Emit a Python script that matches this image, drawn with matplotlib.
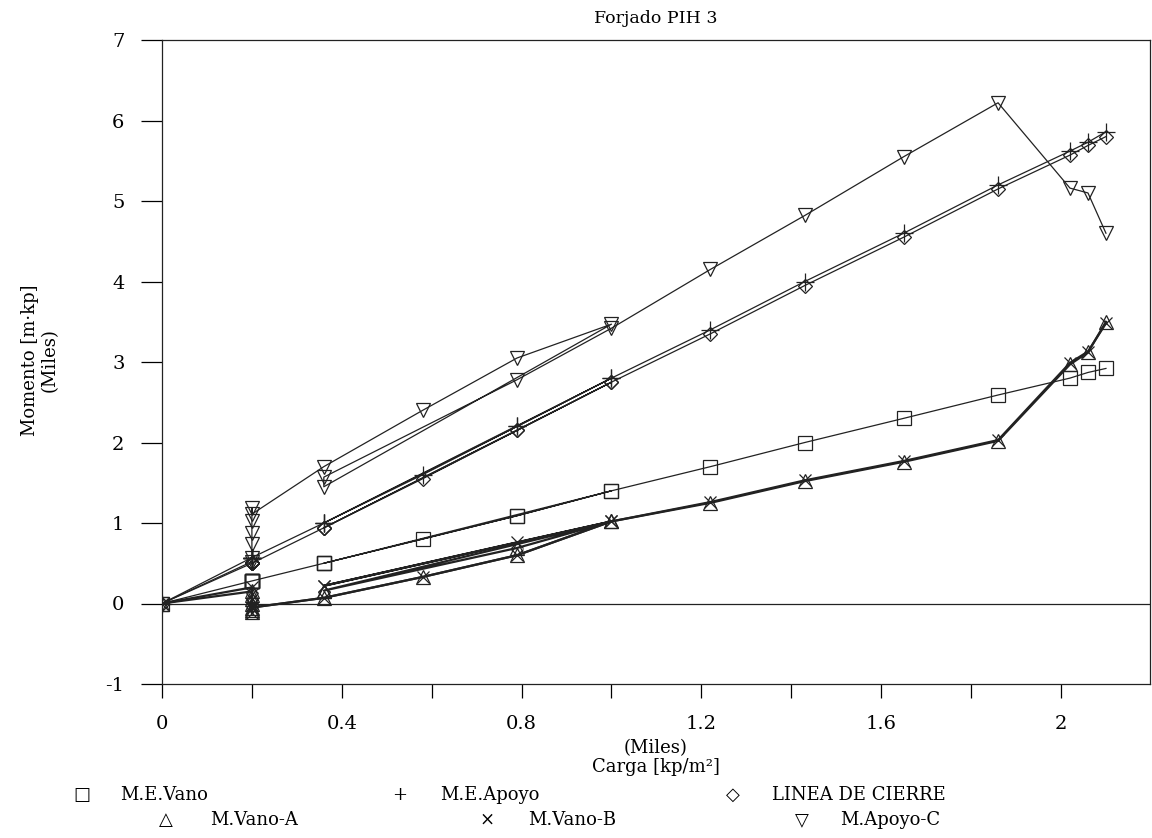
import matplotlib
matplotlib.use("Agg")
import matplotlib.pyplot as plt
from matplotlib.ticker import MultipleLocator, FixedLocator, FixedFormatter

plt.rcParams['font.family'] = ['DejaVu Serif']
plt.rcParams['axes.unicode_minus'] = False

# carga (miles de kp/m2), secuencia de lectura compartida por todas las series
carga = [0, 0.2, 0.2, 0.2, 0.2, 0.2, 0.2, 0.2, 0.36, 0.58, 0.79, 1.0,
         0.36, 0.36, 0.79, 1.0, 1.22, 1.43, 1.65, 1.86, 2.02, 2.06, 2.1]

# momentos (miles de m.kp)
me_vano = [0, 0.28, 0.28, 0.28, 0.28, 0.28, 0.28, 0.28, 0.50, 0.80, 1.09, 1.40,
           0.50, 0.50, 1.09, 1.40, 1.70, 2.00, 2.30, 2.59, 2.80, 2.87, 2.92]
me_apoyo = [0, 0.57, 0.57, 0.57, 0.57, 0.57, 0.57, 0.57, 1.00, 1.60, 2.20, 2.80,
            1.00, 1.00, 2.20, 2.80, 3.40, 4.00, 4.60, 5.20, 5.62, 5.73, 5.86]
linea_cierre = [0, 0.50, 0.50, 0.50, 0.50, 0.50, 0.50, 0.50, 0.94, 1.55, 2.15, 2.75,
                0.94, 0.94, 2.15, 2.75, 3.35, 3.95, 4.55, 5.15, 5.57, 5.69, 5.80]
vano_a = [0, 0.15, 0.10, 0.05, 0.0, -0.10, -0.08, -0.05, 0.07, 0.33, 0.60, 1.02,
          0.16, 0.16, 0.69, 1.02, 1.25, 1.52, 1.76, 2.02, 2.97, 3.12, 3.50]
vano_b = [0, 0.20, 0.12, 0.05, -0.02, -0.05, -0.12, -0.05, 0.07, 0.33, 0.60, 1.02,
          0.22, 0.22, 0.76, 1.02, 1.26, 1.53, 1.77, 2.03, 2.99, 3.13, 3.48]
apoyo_c = [0, 0.52, 0.57, 0.74, 0.88, 1.03, 1.19, 1.11, 1.70, 2.40, 3.05, 3.47,
           1.45, 1.57, 2.78, 3.42, 4.15, 4.82, 5.55, 6.22, 5.16, 5.10, 4.60]

fig = plt.figure(figsize=(11.52, 8.38), dpi=100)
ax = fig.add_axes([162/1152, 1 - 684/838, 988/1152, 644/838])

ln = '#222222'
ax.axhline(0, color=ln, lw=0.9, zorder=1)
ax.plot(carga, me_vano, color=ln, lw=0.9, marker='s', ms=10, mfc='none', mew=0.9)
ax.plot(carga, me_apoyo, color=ln, lw=0.9, marker='+', ms=13, mew=0.9)
ax.plot(carga, linea_cierre, color=ln, lw=0.9, marker='D', ms=7.5, mfc='none', mew=0.9)
ax.plot(carga, vano_a, color=ln, lw=1.6, marker='^', ms=10, mfc='none', mew=0.9)
ax.plot(carga, vano_b, color=ln, lw=1.6, marker='x', ms=9, mew=0.9)
ax.plot(carga, apoyo_c, color=ln, lw=0.9, marker='v', ms=10.5, mfc='none', mew=0.9)

ax.set_xlim(0, 2.198)
ax.set_ylim(-1, 7)
ax.xaxis.set_major_locator(FixedLocator([0, 0.2, 0.4, 0.6, 0.8, 1.0, 1.2, 1.4, 1.6, 1.8, 2.0]))
ax.xaxis.set_major_formatter(FixedFormatter(['0', '', '0.4', '', '0.8', '', '1.2', '', '1.6', '', '2']))
ax.yaxis.set_major_locator(MultipleLocator(1))
ax.tick_params(axis='x', direction='out', length=10, width=0.9, pad=12, labelsize=14)
ax.tick_params(axis='y', direction='out', length=15, width=0.9, pad=12, labelsize=14)
for s in ax.spines.values():
    s.set_linewidth(0.9)
    s.set_color(ln)

ax.set_title('Forjado PIH 3', fontsize=12.5, pad=12)
fig.text(656/1152, 1 - 748/838, '(Miles)', ha='center', va='center', fontsize=13)
fig.text(656/1152, 1 - 767/838, 'Carga [kp/m²]', ha='center', va='center', fontsize=13)
fig.text(40/1152, 1 - 360/838, 'Momento [m·kp]\n(Miles)', rotation=90, ha='center', va='center',
         fontsize=13, multialignment='center', linespacing=1.1)

# leyenda
leyenda = [('□', 'M.E.Vano', 82, 120, 795), ('+', 'M.E.Apoyo', 400, 440, 795),
           ('◇', 'LINEA DE CIERRE', 733, 772, 795), ('△', 'M.Vano-A', 166, 210, 820),
           ('×', 'M.Vano-B', 487, 528, 820), ('▽', 'M.Apoyo-C', 802, 840, 820)]
for sym, txt, xs, xt, yy in leyenda:
    fig.text(xs/1152, 1 - yy/838, sym, ha='center', va='center', fontsize=13)
    fig.text(xt/1152, 1 - yy/838, txt, ha='left', va='center', fontsize=13)

fig.savefig('out.png', dpi=100)
